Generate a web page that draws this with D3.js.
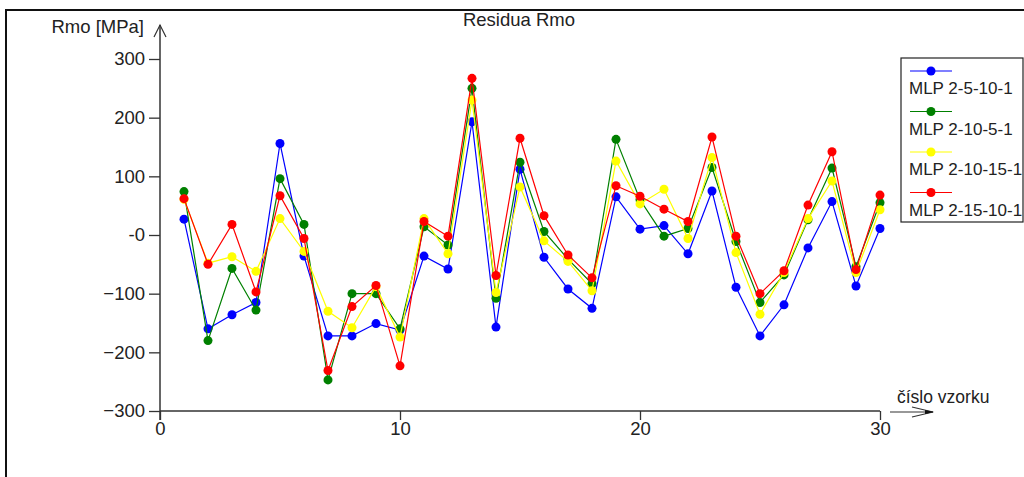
<!DOCTYPE html>
<html>
<head>
<meta charset="utf-8">
<script src="https://cdn.jsdelivr.net/npm/d3@7"></script>
<style>
  html, body { margin: 0; padding: 0; background: #fff; overflow: hidden; }
  svg text { font-family: "Liberation Sans", Arial, sans-serif; fill: #222; }
</style>
</head>
<body>
<div id="chart"></div>
<script>
(function () {
  "use strict";

  // ── Data ────────────────────────────────────────────────────────────────
  const SAMPLES = d3.range(1, 31);
  const SERIES_NAMES = ["MLP 2-5-10-1", "MLP 2-10-5-1", "MLP 2-10-15-1", "MLP 2-15-10-1"];
  const SERIES_COLORS = ["#0000ff", "#008000", "#ffff00", "#ff0000"];

  const mlp_2_5_10_1 = [27, -160, -136, -115, 156, -36, -172, -172, -151, -162,
                        -36, -58, 193, -157, 112, -38, -92, -125, 65, 10,
                        16, -32, 75, -89, -172, -119, -22, 57, -87, 11];
  const mlp_2_10_5_1 = [74, -180, -57, -128, 96, 18, -247, -100, -100, -160,
                        14, -17, 250, -108, 124, 6, -41, -83, 163, 60,
                        -2, 11, 115, -11, -115, -68, 26, 114, -54, 55];
  const mlp_2_10_15_1 = [61, -48, -37, -62, 28, -28, -130, -158, -88, -174,
                         28, -32, 230, -98, 82, -10, -45, -95, 126, 53,
                         78, -6, 132, -30, -135, -64, 28, 92, -64, 43];
  const mlp_2_15_10_1 = [62, -50, 18, -97, 67, -6, -231, -122, -86, -223,
                         23, -2, 267, -69, 165, 33, -34, -73, 84, 66,
                         44, 23, 167, -2, -100, -61, 51, 142, -59, 68];

  const SERIES = [mlp_2_5_10_1, mlp_2_10_5_1, mlp_2_10_15_1, mlp_2_15_10_1];

  const X_TICKS = [0, 10, 20, 30];
  const Y_TICKS = [-300, -200, -100, 0, 100, 200, 300];

  const TITLE = "Residua Rmo";
  const Y_LABEL = "Rmo [MPa]";
  const X_LABEL = "číslo vzorku";

  // ── Setup ───────────────────────────────────────────────────────────────
  const W = 1024, H = 477;
  const FONT = 18.5;      // axis/title text
  const LEG_FONT = 17;    // legend + x label text
  const AXIS = "#333";

  const svg = d3.select("#chart").append("svg")
    .attr("width", W).attr("height", H);

  const x = d3.scaleLinear().domain([0, 30]).range([160, 880]);
  const y = d3.scaleLinear().domain([-300, 300]).range([411, 59]);

  // outer frame
  svg.append("rect")
    .attr("x", 6).attr("y", 10)
    .attr("width", W + 10).attr("height", H + 10)
    .attr("fill", "none").attr("stroke", "#111").attr("stroke-width", 2);

  // title
  svg.append("text")
    .attr("x", 519).attr("y", 26)
    .attr("text-anchor", "middle")
    .attr("font-size", FONT)
    .text(TITLE);

  // ── Axes ────────────────────────────────────────────────────────────────
  const xAxis = svg.append("g")
    .attr("transform", `translate(0,${y(-300)})`)
    .call(d3.axisBottom(x).tickValues(X_TICKS).tickSize(9).tickPadding(2).tickFormat(d3.format("d")));

  const yAxis = svg.append("g")
    .attr("transform", `translate(${x(0)},0)`)
    .call(d3.axisLeft(y).tickValues(Y_TICKS).tickSize(11).tickPadding(4)
      .tickFormat(d => d === 0 ? "-0" : d3.format("d")(d)));

  [xAxis, yAxis].forEach(function (ax) {
    ax.select(".domain").remove();
    ax.selectAll("line").attr("stroke", AXIS).attr("stroke-width", 1.3);
    ax.selectAll("text")
      .attr("font-size", FONT)
      .attr("font-family", "'Liberation Sans', Arial, sans-serif")
      .attr("fill", "#222");
  });

  // axis lines
  svg.append("line")
    .attr("x1", x(0)).attr("x2", x(30))
    .attr("y1", y(-300)).attr("y2", y(-300))
    .attr("stroke", AXIS).attr("stroke-width", 1.5);
  svg.append("line")
    .attr("x1", x(0)).attr("x2", x(0))
    .attr("y1", y(-300) + 9).attr("y2", 25)
    .attr("stroke", AXIS).attr("stroke-width", 1.5);

  // y arrow head (open chevron)
  svg.append("path")
    .attr("d", `M${x(0) - 6},37 L${x(0)},25 L${x(0) + 6},37`)
    .attr("fill", "none").attr("stroke", AXIS).attr("stroke-width", 1.2);

  // x arrow (separate from axis)
  const ay = y(-300) + 1;
  svg.append("line")
    .attr("x1", 890).attr("x2", 933)
    .attr("y1", ay).attr("y2", ay)
    .attr("stroke", AXIS).attr("stroke-width", 1.2);
  svg.append("path")
    .attr("d", `M912,${ay - 5} L933,${ay} L912,${ay + 5}`)
    .attr("fill", "none").attr("stroke", AXIS).attr("stroke-width", 1.2);
  svg.append("path")
    .attr("d", `M925,${ay - 2} L934,${ay} L925,${ay + 2} Z`)
    .attr("fill", "#111");

  // axis labels
  svg.append("text")
    .attr("x", 144).attr("y", 33)
    .attr("text-anchor", "end")
    .attr("font-size", FONT)
    .text(Y_LABEL);
  svg.append("text")
    .attr("x", 897).attr("y", 403)
    .attr("font-size", LEG_FONT + 0.5)
    .text(X_LABEL);

  // ── Series ──────────────────────────────────────────────────────────────
  const line = d3.line()
    .x((d, i) => x(SAMPLES[i]))
    .y(d => y(d));

  SERIES.forEach(function (vals, si) {
    const color = SERIES_COLORS[si];
    const g = svg.append("g");
    g.append("path")
      .datum(vals)
      .attr("d", line)
      .attr("fill", "none")
      .attr("stroke", color)
      .attr("stroke-width", 1.2);
    g.selectAll("circle")
      .data(vals)
      .join("circle")
      .attr("cx", (d, i) => x(SAMPLES[i]))
      .attr("cy", d => y(d))
      .attr("r", 4.5)
      .attr("fill", color);
  });

  // ── Legend ──────────────────────────────────────────────────────────────
  const lg = svg.append("g");
  lg.append("rect")
    .attr("x", 901).attr("y", 58)
    .attr("width", 122).attr("height", 164)
    .attr("fill", "#fff").attr("stroke", "#222").attr("stroke-width", 1.2);

  SERIES_NAMES.forEach(function (name, i) {
    const ly = 71 + i * 40.5;
    lg.append("line")
      .attr("x1", 910).attr("x2", 952)
      .attr("y1", ly).attr("y2", ly)
      .attr("stroke", SERIES_COLORS[i]).attr("stroke-width", 1.2);
    lg.append("circle")
      .attr("cx", 931).attr("cy", ly).attr("r", 4.5)
      .attr("fill", SERIES_COLORS[i]);
    lg.append("text")
      .attr("x", 909).attr("y", ly + 23)
      .attr("font-size", LEG_FONT)
      .text(name);
  });
})();
</script>
</body>
</html>
